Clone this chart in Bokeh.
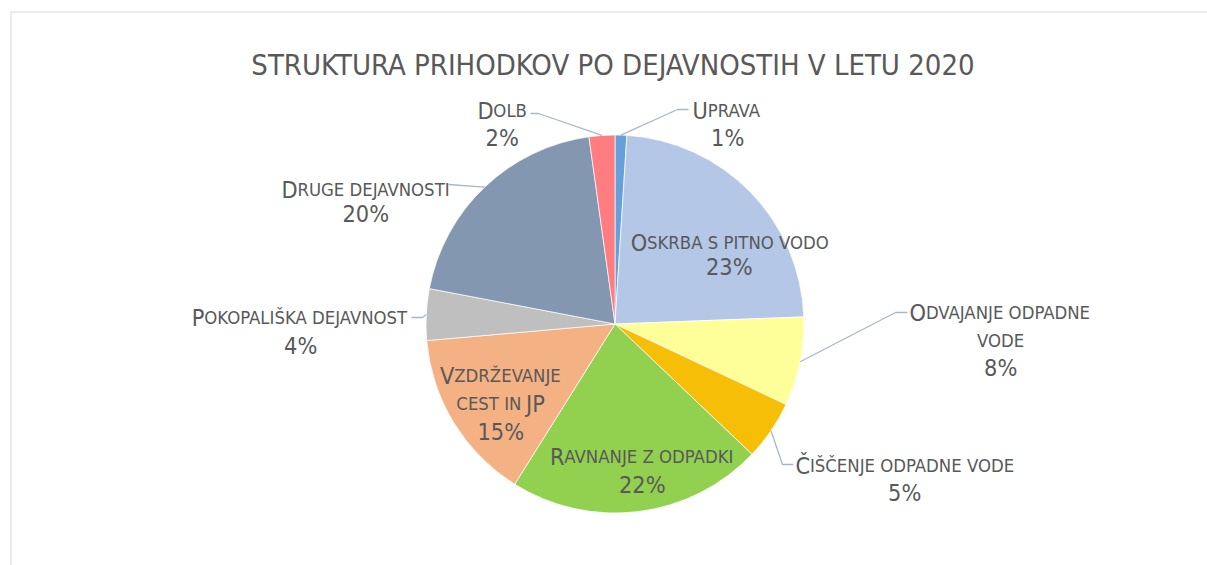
import math
from bokeh.plotting import figure
from bokeh.models import Range1d, ColumnDataSource, Label
from bokeh.embed import file_html
from bokeh.resources import INLINE
from bokeh.core.properties import value

# ---------------- data ----------------
categories = ["Uprava", "Oskrba s pitno vodo", "Odvajanje odpadne vode",
              "Čiščenje odpadne vode", "Ravnanje z odpadki",
              "Vzdrževanje cest in JP", "Pokopališka dejavnost",
              "Druge dejavnosti", "Dolb"]
shares = [1.0, 23.4, 7.6, 5.1, 21.8, 14.7, 4.4, 19.8, 2.2]
colors = ["#66A0DA", "#B4C7E7", "#FFFF99", "#F7BE07", "#92D050",
          "#F4B183", "#BFBFBF", "#8497B0", "#FF7C80"]
title_text = "STRUKTURA PRIHODKOV PO DEJAVNOSTIH V LETU 2020"

# ---------------- layout ----------------
W, H = 1207, 565
OFF = 0


def fx(x):  # image px -> figure data x
    return x - OFF


def fy(y):  # image px -> figure data y
    return (H + OFF) - y


FONT = "'DejaVu Sans Condensed', 'Liberation Sans Narrow', sans-serif"
TXT = "#595959"
LEAD = "#A9B7CA"
BIG, SMALL = 23.3, 18.4
TITLE_SIZE = 29

CX, CY, R = 614.5, 323.5, 189.0

# label line breaks, centre x, baselines (image px)
label_lines = [["Uprava"], ["Oskrba s pitno vodo"], ["Odvajanje odpadne", "vode"],
               ["Čiščenje odpadne vode"], ["Ravnanje z odpadki"],
               ["Vzdrževanje", "cest in JP"], ["Pokopališka dejavnost"],
               ["Druge dejavnosti"], ["Dolb"]]
label_cx = [727, 728.5, 1000, 904, 641.5, 500, 300, 365, 501.5]
label_base = [[110, 137], [242, 266], [312, 340, 367], [465, 492], [456, 484],
              [375, 403, 431], [317, 345], [189, 213], [110, 137]]
# leader lines: (start, elbow) in image px, end on the slice mid-angle
leaders = {0: ((688, 109), (677, 109)), 8: ((530, 113), (538, 113)),
           7: ((448, 184), None), 2: ((907, 312), (895, 312)),
           3: ((793, 464), (782, 464)), 6: ((411, 317), (422, 317))}

# approx. DejaVu Sans advance widths (per 1000 em)
AW = {' ': 318, '%': 950}
for ch, w in zip("ABCDEFGHIJKLMNOPQRSTUVWXYZ",
                 [684, 686, 698, 770, 632, 575, 775, 752, 295, 295, 656, 557, 863,
                  748, 787, 603, 787, 695, 635, 611, 732, 684, 989, 685, 611, 685]):
    AW[ch] = w
for d in "0123456789":
    AW[d] = 636
AW.update({'Š': 635, 'Č': 698, 'Ž': 685})
COND = 0.89


def tw(s, px):
    return sum(AW.get(c, 640) for c in s) * COND * px / 1000.0


def runs(line):
    out = []
    for c in line:
        big = c.isupper() or c.isdigit() or c == '%'
        if out and out[-1][1] == big:
            out[-1][0] += c
        else:
            out.append([c, big])
    return [(t if b else t.upper(), BIG if b else SMALL) for t, b in out]


# ---------------- figure ----------------
p = figure(width=W, height=H, x_range=Range1d(0, W), y_range=Range1d(0, H),
           output_backend="svg", toolbar_location=None, min_border=0,
           x_axis_type=None, y_axis_type=None)
p.outline_line_color = None
p.grid.visible = False
p.background_fill_color = "white"
p.border_fill_color = "white"

# chart border
p.segment(x0=[fx(10.5), fx(10.5)], y0=[fy(11.5), fy(11.5)], x1=[fx(1207), fx(10.5)],
          y1=[fy(11.5), fy(565)], line_color="#D9D9D9", line_width=1)

total = sum(shares)
fr = [s / total for s in shares]
cum = [sum(fr[:i]) for i in range(len(fr) + 1)]
start = [math.pi / 2 - 2 * math.pi * cum[i] for i in range(len(fr))]
end = [math.pi / 2 - 2 * math.pi * cum[i + 1] for i in range(len(fr))]
src = ColumnDataSource(dict(start=start, end=end, color=colors, name=categories))
p.wedge(x=fx(CX), y=fy(CY), radius=R, radius_units="screen", start_angle="start",
        end_angle="end", direction="clock", fill_color="color",
        line_color="white", line_width=0.7, source=src)

# leader lines
xs, ys = [], []
for i, (s, e) in leaders.items():
    mid = 2 * math.pi * (cum[i] + cum[i + 1]) / 2
    px_, py_ = CX + R * math.sin(mid), CY - R * math.cos(mid)
    pts = [s] + ([e] if e else []) + [(px_, py_)]
    xs.append([fx(a) for a, b in pts])
    ys.append([fy(b) for a, b in pts])
p.multi_line(xs=xs, ys=ys, line_color=LEAD, line_width=1.3)

# labels (small-caps emulation)
rx, ry, rt, rs = [], [], [], []
for i, lines in enumerate(label_lines):
    pct = f"{round(fr[i] * 100):.0f}%"
    all_lines = lines + [pct]
    for ln, base in zip(all_lines, label_base[i]):
        rr = runs(ln)
        wtot = sum(tw(t, s) for t, s in rr)
        x = label_cx[i] - wtot / 2
        for t, s in rr:
            lead_sp = len(t) - len(t.lstrip())
            xx = x + tw(t[:lead_sp], s)
            rx.append(fx(xx)); ry.append(fy(base)); rt.append(t.strip()); rs.append(f"{s}px")
            x += tw(t, s)
lsrc = ColumnDataSource(dict(x=rx, y=ry, text=rt, size=rs))
p.text(x="x", y="y", text="text", text_font_size="size", source=lsrc,
       text_align="left", text_baseline="alphabetic", text_color=TXT,
       text_font=value(FONT))

p.add_layout(Label(x=fx(612.5), y=fy(64), text=title_text, text_align="center",
                   text_baseline="alphabetic", text_font_size=f"{TITLE_SIZE}px",
                   text_color=TXT, text_font=FONT))

open("out.html", "w").write(file_html(p, INLINE))
